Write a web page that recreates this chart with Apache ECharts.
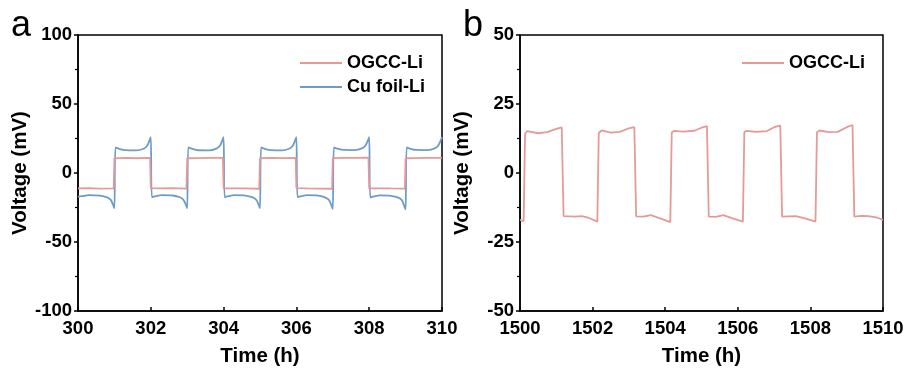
<!DOCTYPE html>
<html><head><meta charset="utf-8">
<script src="https://cdn.jsdelivr.net/npm/echarts@6/dist/echarts.min.js"></script>
<style>html,body{margin:0;padding:0;background:#fff}#c{width:909px;height:372px}</style>
</head><body><div id="c"></div>
<script>
// Panel a: symmetric cycling, time (h) vs voltage (mV)
const ogccA = [
 [300,-11.2],[300.3,-11.0],[300.6,-11.3],[300.98,-11.1],
 [301.0,10.6],[301.3,10.9],[301.6,10.7],[301.98,11.0],
 [302.0,-11.0],[302.3,-11.2],[302.6,-11.0],[302.98,-11.3],
 [303.0,10.7],[303.3,10.8],[303.6,10.9],[303.98,11.0],
 [304.0,-11.1],[304.3,-11.2],[304.6,-11.1],[304.98,-11.4],
 [305.0,10.7],[305.3,10.9],[305.6,10.8],[305.98,11.0],
 [306.0,-11.0],[306.3,-11.2],[306.6,-11.3],[306.98,-11.4],
 [307.0,10.8],[307.3,10.9],[307.6,11.0],[307.98,11.1],
 [308.0,-11.2],[308.3,-11.1],[308.6,-11.2],[308.98,-11.3],
 [309.0,10.7],[309.3,10.8],[309.6,10.9],[310.0,11.0]
];
const cuA = [
 [300,-17.2],[300.1,-16.8],[300.3,-16.0],[300.6,-16.4],[300.8,-17.6],[300.9,-19.5],[300.97,-23.5],[301.0,-25.5],
 [301.03,18.5],[301.1,17.8],[301.3,16.6],[301.6,16.4],[301.8,17.6],[301.9,19.8],[301.97,24.0],[302.0,26.0],
 [302.03,-17.5],[302.1,-17.0],[302.3,-16.0],[302.6,-16.3],[302.8,-17.6],[302.9,-19.6],[302.97,-23.5],[303.0,-25.5],
 [303.03,18.5],[303.1,17.8],[303.3,16.5],[303.6,16.4],[303.8,17.7],[303.9,19.8],[303.97,24.0],[304.0,26.0],
 [304.03,-17.5],[304.1,-17.0],[304.3,-16.1],[304.6,-16.4],[304.8,-17.7],[304.9,-19.6],[304.97,-23.5],[305.0,-25.5],
 [305.03,18.5],[305.1,17.8],[305.3,16.6],[305.6,16.4],[305.8,17.6],[305.9,19.8],[305.97,24.0],[306.0,26.0],
 [306.03,-17.5],[306.1,-17.0],[306.3,-16.1],[306.6,-16.4],[306.8,-17.8],[306.9,-19.8],[306.97,-24.0],[307.0,-26.0],
 [307.03,18.5],[307.1,17.9],[307.3,16.7],[307.6,16.6],[307.8,17.8],[307.9,20.0],[307.97,24.0],[308.0,26.0],
 [308.03,-17.8],[308.1,-17.2],[308.3,-16.2],[308.6,-16.5],[308.8,-17.8],[308.9,-19.8],[308.97,-24.5],[309.0,-26.5],
 [309.03,18.5],[309.1,17.8],[309.3,16.7],[309.6,16.6],[309.8,17.8],[309.9,20.0],[309.97,24.0],[310.0,26.0]
];
// Panel b: long-term cycling
const ogccB = [
 [1500,-17.0],[1500.1,-17.4],[1500.14,14.2],[1500.2,15.2],[1500.5,14.4],[1500.75,14.8],[1501.0,16.0],[1501.15,16.5],
 [1501.2,-15.6],[1501.5,-15.8],[1501.7,-15.6],[1501.9,-16.3],[1502.13,-17.6],
 [1502.17,14.5],[1502.25,15.4],[1502.5,14.6],[1502.75,14.9],[1503.0,16.2],[1503.15,16.6],
 [1503.2,-15.7],[1503.4,-15.8],[1503.6,-15.3],[1503.9,-16.6],[1504.14,-17.8],
 [1504.18,14.7],[1504.25,15.3],[1504.5,15.0],[1504.8,15.3],[1505.0,16.4],[1505.15,17.0],
 [1505.2,-15.8],[1505.4,-15.9],[1505.6,-15.3],[1505.9,-16.6],[1506.14,-17.6],
 [1506.18,14.8],[1506.25,15.3],[1506.5,14.9],[1506.8,15.2],[1507.0,16.6],[1507.17,17.2],
 [1507.22,-15.8],[1507.4,-15.7],[1507.6,-15.6],[1507.9,-16.6],[1508.14,-17.6],
 [1508.18,14.8],[1508.25,15.4],[1508.5,14.8],[1508.75,14.9],[1509.0,16.6],[1509.16,17.4],
 [1509.21,-15.8],[1509.4,-15.5],[1509.6,-15.6],[1509.85,-16.2],[1510.0,-17.0]
];
const seriesNames = ['OGCC-Li','Cu foil-Li'];
const red = '#e59a97', blue = '#6d9cc9';
const font = 'Liberation Sans, Arial, sans-serif';

const lab = {color:'#000',fontFamily:font,fontWeight:'bold',fontSize:18.5};
function xAx(grid,min,max){
  return {type:'value',gridIndex:grid,min:min,max:max,interval:2,
    name:'Time (h)',nameLocation:'middle',nameGap:35,
    nameTextStyle:{color:'#000',fontFamily:font,fontWeight:'bold',fontSize:20.5},
    axisLine:{onZero:false,lineStyle:{color:'#000',width:1.5}},
    axisTick:{inside:true,length:4,lineStyle:{color:'#000',width:1.5}},
    axisLabel:Object.assign({margin:8,formatter:v=>String(v)},lab),splitLine:{show:false}};
}
function yAx(grid,min,max,iv){
  return {type:'value',gridIndex:grid,min:min,max:max,interval:iv,
    name:'Voltage (mV)',nameLocation:'middle',nameGap:47,
    nameTextStyle:{color:'#000',fontFamily:font,fontWeight:'bold',fontSize:20.5},
    axisLine:{show:true,onZero:false,lineStyle:{color:'#000',width:1.5}},
    axisTick:{show:true,length:4,lineStyle:{color:'#000',width:1.5}},
    minorTick:{show:true,splitNumber:2,length:3,lineStyle:{color:'#000',width:1.2}},
    axisLabel:Object.assign({margin:6,formatter:v=>String(v)},lab),splitLine:{show:false}};
}
const chart = echarts.init(document.getElementById('c'),null,{renderer:'canvas'});
chart.setOption({
  animation:false,
  backgroundColor:'#fff',
  grid:[
    {left:78,right:467,top:35,bottom:58,show:true,borderColor:'#000',borderWidth:1.5},
    {left:520,right:26,top:35,bottom:58,show:true,borderColor:'#000',borderWidth:1.5}
  ],
  xAxis:[xAx(0,300,310),xAx(1,1500,1510)],
  yAxis:[yAx(0,-100,100,50),yAx(1,-50,50,25)],
  legend:[
    {data:[seriesNames[0],seriesNames[1]],orient:'vertical',left:295,top:49,itemWidth:42,itemHeight:2,itemGap:6,icon:'rect',
     textStyle:{color:'#000',fontFamily:font,fontWeight:'bold',fontSize:18}},
    {data:[{name:seriesNames[0]+' ',icon:'rect'}],left:737,top:49,itemWidth:42,itemHeight:2,icon:'rect',
     textStyle:{color:'#000',fontFamily:font,fontWeight:'bold',fontSize:18}}
  ],
  graphic:[
    {type:'text',left:11,top:8,style:{text:'a',font:'36px '+font,fill:'#000'}},
    {type:'text',left:463,top:8,style:{text:'b',font:'36px '+font,fill:'#000'}}
  ],
  series:[
    {name:seriesNames[0],type:'line',xAxisIndex:0,yAxisIndex:0,data:ogccA,showSymbol:false,color:red,lineStyle:{width:1.8,color:red},z:3},
    {name:seriesNames[1],type:'line',xAxisIndex:0,yAxisIndex:0,data:cuA,showSymbol:false,smooth:0.3,color:blue,lineStyle:{width:1.8,color:blue},z:2},
    {name:seriesNames[0]+' ',type:'line',xAxisIndex:1,yAxisIndex:1,data:ogccB,showSymbol:false,color:red,lineStyle:{width:1.8,color:red}}
  ]
});
</script></body></html>
